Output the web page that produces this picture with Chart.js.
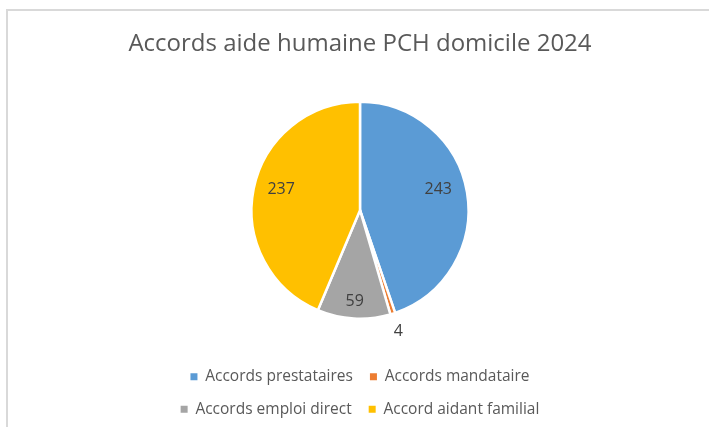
<!DOCTYPE html>
<html>
<head>
<meta charset="utf-8">
<script src="https://cdn.jsdelivr.net/npm/chart.js@4/dist/chart.umd.min.js"></script>
<style>
  html, body { margin: 0; padding: 0; background: #ffffff; }
  #wrap { position: relative; width: 709px; height: 427px; overflow: hidden; }
  #frame { position: absolute; left: 6px; top: 9px; width: 720px; height: 440px;
           border-left: 2px solid #d9d9d9; border-top: 2px solid #d9d9d9; box-sizing: border-box; }
  canvas { position: absolute; left: 0; top: 0; }
</style>
</head>
<body>
<div id="wrap">
  <div id="frame"></div>
  <canvas id="c" width="709" height="427"></canvas>
</div>
<script>
const titleText = "Accords aide humaine PCH domicile 2024";
const categories = ["Accords prestataires", "Accords mandataire", "Accords emploi direct", "Accord aidant familial"];
const values = [243, 4, 59, 237];
const colors = ["#5b9bd5", "#ed7d31", "#a5a5a5", "#ffc000"];

// label placement (fraction of radius, extra pixel offsets)
const labelRadius = [0.75, 1.17, 0.84, 0.76];
const labelShift = [[-2, -7], [0, 0], [0, 0], [2, -4]];

const valueLabels = {
  id: 'valueLabels',
  afterDatasetsDraw(chart) {
    const ctx = chart.ctx;
    const meta = chart.getDatasetMeta(0);
    ctx.save();
    ctx.font = '16px "Open Sans", sans-serif';
    ctx.fillStyle = '#404040';
    ctx.textAlign = 'center';
    ctx.textBaseline = 'middle';
    meta.data.forEach((arc, i) => {
      const p = arc.getProps(['x', 'y', 'startAngle', 'endAngle', 'outerRadius'], true);
      const mid = (p.startAngle + p.endAngle) / 2;
      const r = p.outerRadius * labelRadius[i];
      const x = p.x + Math.cos(mid) * r + labelShift[i][0];
      const y = p.y + Math.sin(mid) * r + labelShift[i][1];
      ctx.fillText(String(chart.data.datasets[0].data[i]), x, y);
    });
    ctx.restore();
  }
};

new Chart(document.getElementById('c'), {
  type: 'pie',
  data: {
    labels: categories,
    datasets: [{
      data: values,
      backgroundColor: colors,
      borderColor: '#ffffff',
      borderWidth: 2.5,
      radius: 108.5
    }]
  },
  options: {
    responsive: false,
    animation: false,
    layout: { padding: { left: 120, right: 109, top: 0, bottom: 0 } },
    plugins: {
      title: {
        display: true,
        text: titleText,
        color: '#595959',
        font: { family: '"Open Sans", sans-serif', size: 24, weight: 'normal' },
        padding: { top: 29.6, bottom: 10 }
      },
      legend: {
        position: 'bottom',
        labels: {
          color: '#595959',
          font: { family: '"Open Sans", sans-serif', size: 15.5 },
          boxWidth: 7,
          boxHeight: 7,
          padding: 17,
          generateLabels(chart) {
            return Chart.overrides.pie.plugins.legend.labels.generateLabels(chart)
              .map(item => Object.assign(item, { lineWidth: 0 }));
          }
        }
      },
      tooltip: { enabled: false }
    }
  },
  plugins: [valueLabels]
});
</script>
</body>
</html>
